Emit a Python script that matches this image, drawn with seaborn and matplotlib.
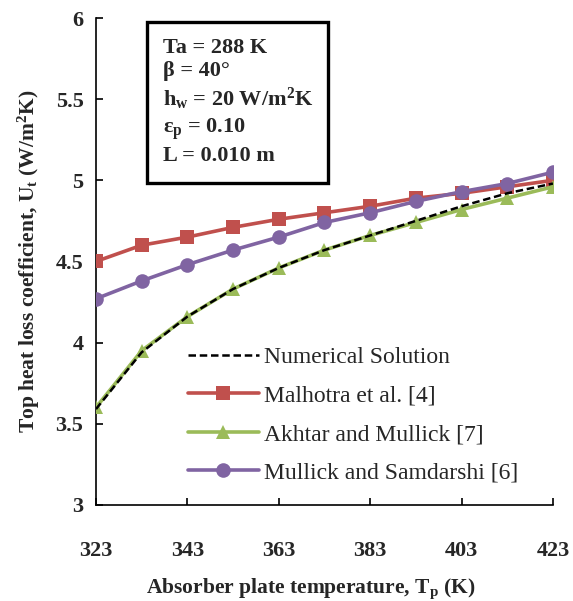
import pandas as pd
import matplotlib.pyplot as plt
import seaborn as sns
from matplotlib.patches import Rectangle

# dati
tp = [323, 333, 343, 353, 363, 373, 383, 393, 403, 413, 423]
ut_numerical = [3.59, 3.94, 4.16, 4.33, 4.46, 4.57, 4.66, 4.75, 4.84, 4.92, 4.98]
ut_malhotra = [4.50, 4.60, 4.65, 4.71, 4.76, 4.80, 4.84, 4.89, 4.92, 4.96, 5.00]
ut_akhtar = [3.60, 3.95, 4.16, 4.33, 4.46, 4.57, 4.66, 4.74, 4.82, 4.89, 4.96]
ut_mullick = [4.27, 4.38, 4.48, 4.57, 4.65, 4.74, 4.80, 4.87, 4.93, 4.98, 5.05]

x_ticks = [323, 343, 363, 383, 403, 423]
y_ticks = [3, 3.5, 4, 4.5, 5, 5.5, 6]
y_tick_labels = ['3', '3.5', '4', '4.5', '5', '5.5', '6']

box_lines = [
    'Ta = 288 K',
    'β = 40°',
    'h$_w$ = 20 W/m$^2$K',
    'ε$_p$ = 0.10',
    'L = 0.010 m',
]

df = pd.DataFrame({
    'Tp': tp,
    'Numerical Solution': ut_numerical,
    'Malhotra et al. [4]': ut_malhotra,
    'Akhtar and Mullick [7]': ut_akhtar,
    'Mullick and Samdarshi [6]': ut_mullick,
})

sns.set_theme(style='ticks')
plt.rcParams['font.family'] = ['Liberation Serif', 'DejaVu Serif']
plt.rcParams['mathtext.fontset'] = 'custom'
plt.rcParams['mathtext.rm'] = 'Liberation Serif:bold'
plt.rcParams['mathtext.default'] = 'rm'

fig = plt.figure(figsize=(5.73, 6.01), dpi=100)
ax = fig.add_axes([0.1675, 0.160, 0.7975, 0.810])

stili = [
    ('Numerical Solution', 'black', None, (0, (3, 1.5)), 1.8, 5),
    ('Malhotra et al. [4]', '#C0504D', 's', '-', 2.6, 3),
    ('Akhtar and Mullick [7]', '#9BBB59', '^', '-', 2.6, 3),
    ('Mullick and Samdarshi [6]', '#8064A2', 'o', '-', 2.6, 3),
]

for nome, colore, marker, ls, lw, z in stili:
    sns.lineplot(
        data=df, x='Tp', y=nome, ax=ax, color=colore,
        marker=marker, markersize=10.5, markeredgewidth=0,
        linestyle=ls, linewidth=lw, label=nome, zorder=z
    )

ax.set_xlim(323, 423)
ax.set_ylim(3, 6)
ax.set_xticks(x_ticks)
ax.set_yticks(y_ticks)
ax.set_yticklabels(y_tick_labels)

for lab in ax.get_xticklabels() + ax.get_yticklabels():
    lab.set_fontweight('bold')
    lab.set_fontsize(16)

ax.tick_params(axis='both', direction='in', length=5, width=1.2, color='black')
ax.tick_params(axis='x', pad=26)
ax.tick_params(axis='y', pad=9)

for lato in ['top', 'right']:
    ax.spines[lato].set_visible(False)
for lato in ['left', 'bottom']:
    ax.spines[lato].set_linewidth(1.2)
    ax.spines[lato].set_color('black')

ax.set_xlabel('Absorber plate temperature, T$_p$ (K)',
              fontsize=15.5, fontweight='bold')
ax.xaxis.set_label_coords(0.47, -0.148)
ax.set_ylabel('Top heat loss coefficient, U$_t$ (W/m$^2$K)',
              fontsize=15.5, fontweight='bold', labelpad=10)

leg = ax.legend(
    loc='lower left', bbox_to_anchor=(0.155, 0.0), frameon=False,
    fontsize=17, handlelength=3.0, labelspacing=0.72, handletextpad=0.2
)

# riquadro con i parametri
ax.add_patch(Rectangle((0.112, 0.661), 0.396, 0.331, transform=ax.transAxes,
                       fill=False, edgecolor='black', linewidth=2.4,
                       zorder=6, clip_on=False))
ax.text(0.147, 0.96, '\n'.join(box_lines), transform=ax.transAxes,
        fontsize=16, fontweight='bold', va='top', ha='left',
        linespacing=1.25, zorder=7)

fig.savefig('out.png', dpi=100)
